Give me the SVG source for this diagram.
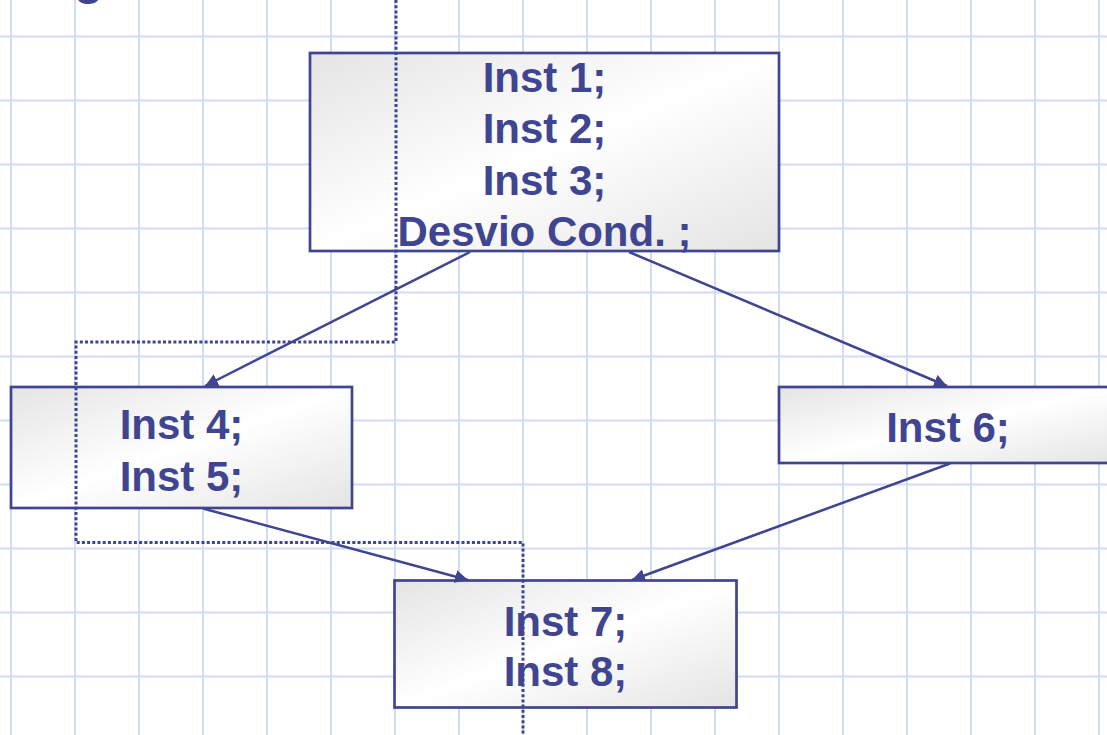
<svg xmlns="http://www.w3.org/2000/svg" width="1107" height="735" viewBox="0 0 1107 735">
  <style>
    .grid line { stroke: #cfdbf8; stroke-width: 2; }
    .box { fill: url(#boxFill); stroke: #3f4590; stroke-width: 2.7; }
    .label { font-family: "Liberation Sans", Arial, sans-serif; font-weight: bold; font-size: 42px; fill: #3f4590; text-anchor: middle; }
    .edge { stroke: #3f4590; stroke-width: 2.5; fill: none; marker-end: url(#arrow); }
    .region { stroke: #3f4590; stroke-width: 3; stroke-dasharray: 3 2.2; fill: none; }
  </style>
  <defs>
    <linearGradient id="boxFill" x1="0" y1="0" x2="1" y2="1">
      <stop offset="0" stop-color="#e4e4e4"/>
      <stop offset="0.5" stop-color="#ffffff"/>
      <stop offset="1" stop-color="#e4e4e4"/>
    </linearGradient>
    <marker id="arrow" viewBox="0 0 13 13" refX="13" refY="6.5" markerWidth="13" markerHeight="13" markerUnits="userSpaceOnUse" orient="auto">
      <path d="M0,0 L13,6.5 L0,13 z" fill="#3f4590"/>
    </marker>
  </defs>

  <rect width="1107" height="735" fill="#ffffff"/>

  <!-- background grid -->
  <g class="grid">
    <line x1="11" y1="0" x2="11" y2="735"/>
    <line x1="75" y1="0" x2="75" y2="735"/>
    <line x1="139" y1="0" x2="139" y2="735"/>
    <line x1="203" y1="0" x2="203" y2="735"/>
    <line x1="267" y1="0" x2="267" y2="735"/>
    <line x1="331" y1="0" x2="331" y2="735"/>
    <line x1="395" y1="0" x2="395" y2="735"/>
    <line x1="459" y1="0" x2="459" y2="735"/>
    <line x1="523" y1="0" x2="523" y2="735"/>
    <line x1="587" y1="0" x2="587" y2="735"/>
    <line x1="651" y1="0" x2="651" y2="735"/>
    <line x1="715" y1="0" x2="715" y2="735"/>
    <line x1="779" y1="0" x2="779" y2="735"/>
    <line x1="843" y1="0" x2="843" y2="735"/>
    <line x1="907" y1="0" x2="907" y2="735"/>
    <line x1="971" y1="0" x2="971" y2="735"/>
    <line x1="1035" y1="0" x2="1035" y2="735"/>
    <line x1="1099" y1="0" x2="1099" y2="735"/>
    <line x1="0" y1="36.5" x2="1107" y2="36.5"/>
    <line x1="0" y1="100.5" x2="1107" y2="100.5"/>
    <line x1="0" y1="164.5" x2="1107" y2="164.5"/>
    <line x1="0" y1="228.5" x2="1107" y2="228.5"/>
    <line x1="0" y1="292.5" x2="1107" y2="292.5"/>
    <line x1="0" y1="356.5" x2="1107" y2="356.5"/>
    <line x1="0" y1="420.5" x2="1107" y2="420.5"/>
    <line x1="0" y1="484.5" x2="1107" y2="484.5"/>
    <line x1="0" y1="548.5" x2="1107" y2="548.5"/>
    <line x1="0" y1="612.5" x2="1107" y2="612.5"/>
    <line x1="0" y1="676.5" x2="1107" y2="676.5"/>
  </g>

  <!-- title, mostly above the visible area -->
  <text x="74" y="-6" font-family="Liberation Sans, Arial, sans-serif" font-weight="bold" font-size="48" fill="#3f4590">g</text>

  <!-- basic blocks -->
  <g id="block1">
    <rect class="box" x="310" y="53" width="469" height="198"/>
    <text class="label" x="544.5" y="92">Inst 1;</text>
    <text class="label" x="544.5" y="143">Inst 2;</text>
    <text class="label" x="544.5" y="194.5">Inst 3;</text>
    <text class="label" x="544.5" y="245.5">Desvio Cond. ;</text>
  </g>
  <g id="block2">
    <rect class="box" x="11" y="387" width="341" height="121"/>
    <text class="label" x="181.5" y="439">Inst 4;</text>
    <text class="label" x="181.5" y="490.5">Inst 5;</text>
  </g>
  <g id="block3">
    <rect class="box" x="779" y="387" width="338" height="76"/>
    <text class="label" x="948" y="441.5">Inst 6;</text>
  </g>
  <g id="block4">
    <rect class="box" x="394.5" y="580.5" width="342" height="127"/>
    <text class="label" x="565.5" y="636">Inst 7;</text>
    <text class="label" x="565.5" y="686">Inst 8;</text>
  </g>

  <!-- control-flow edges -->
  <g id="edges">
    <line class="edge" x1="470" y1="252" x2="205" y2="386"/>
    <line class="edge" x1="629" y1="252" x2="947" y2="386"/>
    <line class="edge" x1="203" y1="508.5" x2="468" y2="580"/>
    <line class="edge" x1="950" y1="463.5" x2="632" y2="580"/>
  </g>

  <!-- dotted region boundary -->
  <path class="region" d="M396,0 V342 H76 V542.5 H523 V735"/>
</svg>
